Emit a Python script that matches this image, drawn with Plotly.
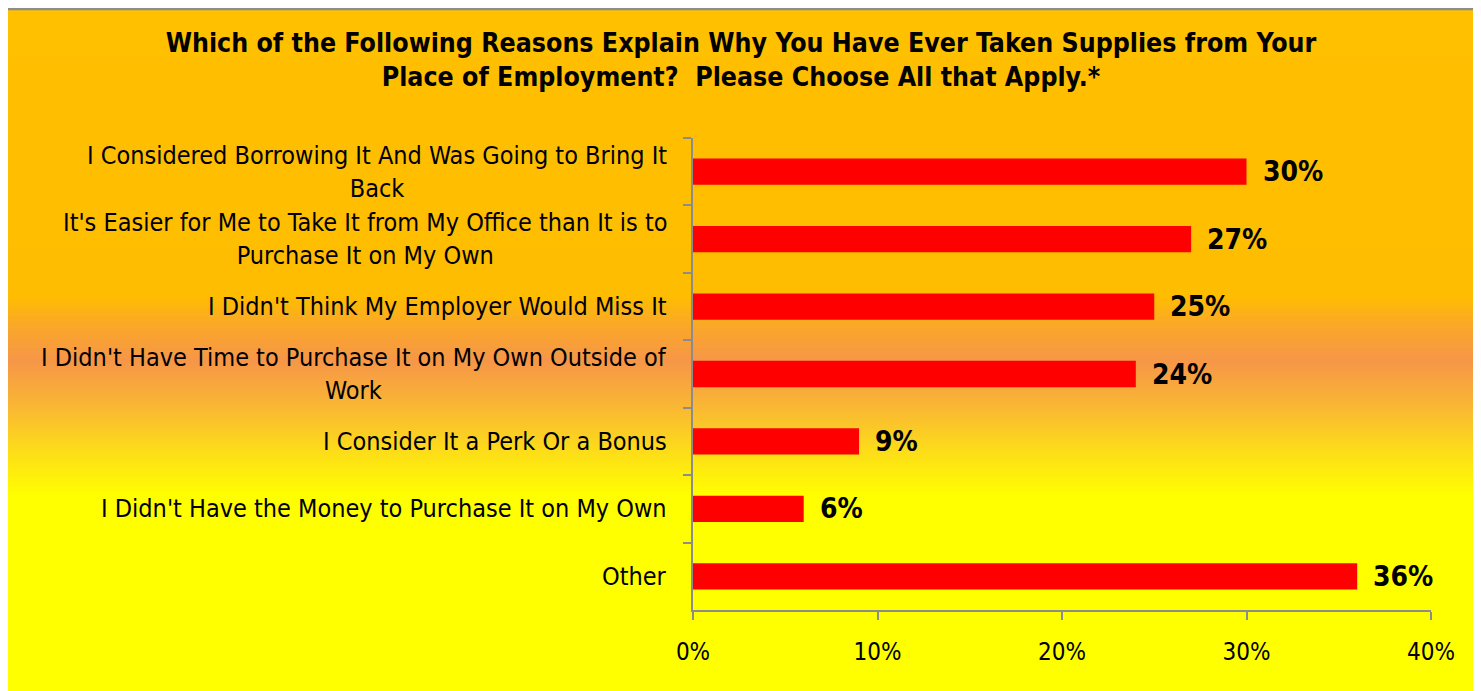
import base64, struct, zlib
import plotly.graph_objects as go

# ---------------- data ----------------
title_lines = ["Which of the Following Reasons Explain Why You Have Ever Taken Supplies from Your",
               "Place of Employment?  Please Choose All that Apply.*"]
categories = [
    "I Considered Borrowing It And Was Going to Bring It<br>Back",
    "It's Easier for Me to Take It from My Office than It is to<br>Purchase It on My Own",
    "I Didn't Think My Employer Would Miss It",
    "I Didn't Have Time to Purchase It on My Own Outside of<br>Work",
    "I Consider It a Perk Or a Bonus",
    "I Didn't Have the Money to Purchase It on My Own",
    "Other",
]
values = [30, 27, 25, 24, 9, 6, 36]
x_ticks = [0, 10, 20, 30, 40]
x_tick_labels = ["0%", "10%", "20%", "30%", "40%"]

# ---------------- geometry (screen pixels; page body has an 8px margin) ----------------
OFF = 8
SW, SH = 1481, 691
PL, PR, PT, PB = 693, 1431, 138, 610          # plot area on screen
W, H = SW - OFF, SH - OFF
ML, MR, MT, MB = PL - OFF, SW - PR, PT - OFF, SH - PB
PW, PH = PR - PL, PB - PT

def px2x(sx):
    return (sx - PL) / PW

def py2y(sy):
    return (PB - sy) / PH

FONT = "DejaVu Sans Condensed, DejaVu Sans, Verdana, sans-serif"

# ---------------- gradient background image ----------------
stops = [(9, (255, 192, 0)), (295, (255, 189, 0)), (325, (250, 168, 40)),
         (360, (246, 150, 72)), (405, (249, 182, 52)), (450, (253, 220, 25)),
         (495, (255, 255, 0)), (691, (255, 255, 0))]

def col_at(py):
    for (a, ca), (b, cb) in zip(stops, stops[1:]):
        if a <= py <= b:
            t = (py - a) / (b - a) if b > a else 0
            return tuple(int(round(ca[i] + (cb[i] - ca[i]) * t)) for i in range(3))
    return stops[-1][1]

IW = 4
rows = [col_at(py) for py in range(9, 691)]
raw = b"".join(b"\x00" + bytes(c) * IW for c in rows)

def chunk(tag, data):
    c = struct.pack(">I", len(data)) + tag + data
    return c + struct.pack(">I", zlib.crc32(tag + data) & 0xffffffff)

png = (b"\x89PNG\r\n\x1a\n"
       + chunk(b"IHDR", struct.pack(">IIBBBBB", IW, len(rows), 8, 2, 0, 0, 0))
       + chunk(b"IDAT", zlib.compress(raw, 9))
       + chunk(b"IEND", b""))
uri = "data:image/png;base64," + base64.b64encode(png).decode()

# ---------------- figure ----------------
fig = go.Figure()
fig.add_trace(go.Bar(
    x=values, y=categories, orientation="h",
    marker=dict(color="#FF0000", line=dict(width=0)),
    hoverinfo="skip",
))

annotations = []
for cat, v in zip(categories, values):
    annotations.append(dict(
        x=v, y=cat, xref="x", yref="y", text=f"<b>{v}%</b>", showarrow=False,
        xanchor="left", yanchor="middle", xshift=14,
        font=dict(family=FONT, size=28, color="black")))
    annotations.append(dict(
        x=0, y=cat, xref="paper", yref="y", text=cat, showarrow=False,
        xanchor="right", yanchor="middle", xshift=-24, align="center",
        font=dict(family=FONT, size=25, color="black")))

fig.update_layout(
    width=W, height=H,
    margin=dict(l=ML, r=MR, t=MT, b=MB, pad=0),
    paper_bgcolor="white", plot_bgcolor="rgba(0,0,0,0)",
    showlegend=False,
    bargap=0.61,
    title=dict(text="<b>" + "<br>".join(title_lines) + "</b>",
               x=(741 - OFF) / W, xanchor="center", xref="container",
               y=1 - 44 / H, yanchor="top",
               font=dict(family=FONT, size=26.5, color="black")),
    xaxis=dict(range=[0, 40], tickvals=x_ticks, ticktext=x_tick_labels,
               showgrid=False, zeroline=False, showline=True,
               linecolor="#8c8c8c", linewidth=2,
               ticks="outside", ticklen=8, tickwidth=2, tickcolor="#8c8c8c",
               ticklabelstandoff=11,
               tickfont=dict(family=FONT, size=24, color="black")),
    yaxis=dict(categoryorder="array", categoryarray=categories, autorange="reversed",
               showticklabels=False, showgrid=False, zeroline=False,
               showline=True, linecolor="#8c8c8c", linewidth=2,
               ticks="outside", ticklen=8, tickwidth=2, tickcolor="#8c8c8c",
               tickson="boundaries"),
    annotations=annotations,
    images=[dict(source=uri, xref="paper", yref="paper",
                 x=px2x(5), y=py2y(9), sizex=(1476 - 5) / PW, sizey=(691 - 9) / PH,
                 xanchor="left", yanchor="top", sizing="stretch", layer="below")],
    shapes=[dict(type="rect", xref="paper", yref="paper",
                 x0=px2x(5), x1=px2x(1476), y0=py2y(700), y1=py2y(9),
                 line=dict(color="#8c8c8c", width=2.5), layer="below")],
)

fig.write_html("out.html")
